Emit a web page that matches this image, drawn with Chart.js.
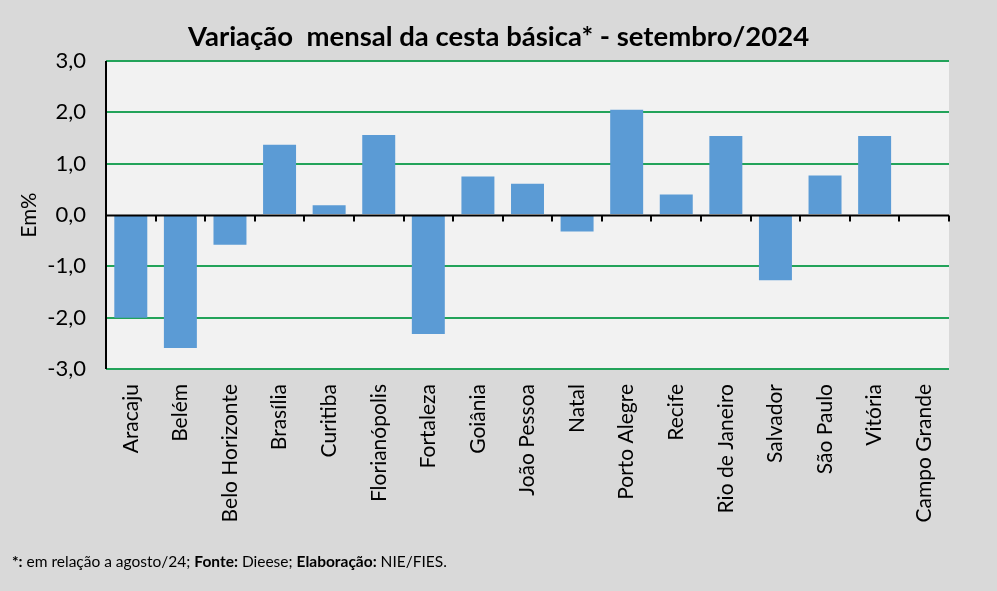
<!DOCTYPE html>
<html lang="pt-BR">
<head>
<meta charset="utf-8">
<script src="https://cdn.jsdelivr.net/npm/chart.js@4.4.1/dist/chart.umd.min.js"></script>
<style>
  html, body { margin: 0; padding: 0; background: #d9d9d9; }
  #wrap { position: relative; width: 997px; height: 591px; }
  #nota {
    position: absolute; left: 12px; top: 552px;
    font-family: Lato, "Open Sans", sans-serif; font-size: 15.5px; color: #000;
  }
</style>
</head>
<body>
<div id="wrap">
  <canvas id="grafico" width="997" height="591"></canvas>
  <div id="nota"><b>*:</b> em relação a agosto/24; <b>Fonte:</b> Dieese; <b>Elaboração:</b> NIE/FIES.</div>
</div>
<script>
const cidades = ['Aracaju', 'Belém', 'Belo Horizonte', 'Brasília', 'Curitiba', 'Florianópolis', 'Fortaleza',
  'Goiânia', 'João Pessoa', 'Natal', 'Porto Alegre', 'Recife', 'Rio de Janeiro', 'Salvador',
  'São Paulo', 'Vitória', 'Campo Grande'];
const variacao = [-2.00, -2.59, -0.58, 1.37, 0.19, 1.56, -2.32, 0.75, 0.61, -0.32, 2.05, 0.40, 1.54, -1.27, 0.77, 1.54, null];
const ticksY = [-3, -2, -1, 0, 1, 2, 3];

document.addEventListener('DOMContentLoaded', function() {
    const ctx = document.getElementById('grafico').getContext('2d');

    // fundo da área de plotagem
    const fundoArea = {
        id: 'fundoArea',
        beforeDraw(chart) {
            const a = chart.chartArea;
            const c = chart.ctx;
            c.save();
            c.fillStyle = '#f2f2f2';
            c.fillRect(a.left, a.top, a.right - a.left, a.bottom - a.top);
            c.restore();
        }
    };

    // eixo horizontal no zero com marcas entre categorias
    const eixoZero = {
        id: 'eixoZero',
        afterDatasetsDraw(chart) {
            const x = chart.scales.x;
            const y = chart.scales.y;
            const y0 = Math.round(y.getPixelForValue(0)) + 0.5;
            const c = chart.ctx;
            c.save();
            c.strokeStyle = '#000';
            c.lineWidth = 2;
            c.beginPath();
            c.moveTo(chart.chartArea.left, y0);
            c.lineTo(chart.chartArea.right, y0);
            for (let i = 0; i <= cidades.length; i++) {
                let px;
                if (i === 0) px = chart.chartArea.left;
                else if (i === cidades.length) px = chart.chartArea.right;
                else px = (x.getPixelForTick(i - 1) + x.getPixelForTick(i)) / 2;
                px = Math.round(px);
                c.moveTo(px, y0);
                c.lineTo(px, y0 + 6);
            }
            c.stroke();
            // eixo vertical
            c.beginPath();
            c.moveTo(chart.chartArea.left, chart.chartArea.top);
            c.lineTo(chart.chartArea.left, chart.chartArea.bottom);
            c.stroke();
            c.restore();
        }
    };

    new Chart(ctx, {
        type: 'bar',
        data: {
            labels: cidades,
            datasets: [{
                label: 'Variação mensal',
                data: variacao,
                backgroundColor: '#5b9bd5',
                borderWidth: 0,
                categoryPercentage: 1,
                barPercentage: 0.665
            }]
        },
        options: {
            responsive: false,
            animation: false,
            devicePixelRatio: 1,
            layout: { padding: 0 },
            plugins: {
                legend: { display: false },
                tooltip: { enabled: false },
                title: {
                    display: true,
                    text: 'Variação  mensal da cesta básica* - setembro/2024',
                    color: '#000',
                    font: { family: 'Lato', size: 27.5, weight: 'bold' },
                    padding: { top: 21, bottom: 7 }
                }
            },
            scales: {
                x: {
                    grid: { display: false, drawTicks: false },
                    border: { display: false },
                    ticks: {
                        autoSkip: false,
                        minRotation: 90,
                        maxRotation: 90,
                        padding: 15,
                        color: '#000',
                        font: { family: 'Lato', size: 21 }
                    },
                    afterFit(scale) { scale.height = 222; }
                },
                y: {
                    min: -3,
                    max: 3,
                    afterBuildTicks(scale) {
                        scale.ticks = ticksY.map(v => ({ value: v }));
                    },
                    grid: {
                        color: ctx => ctx.tick && ctx.tick.value === 0 ? 'rgba(0,0,0,0)' : '#23a35a',
                        lineWidth: 2,
                        drawTicks: false
                    },
                    border: { display: false },
                    ticks: {
                        padding: 20,
                        color: '#000',
                        font: { family: 'Lato', size: 22 },
                        callback: v => v.toFixed(1).replace('.', ',')
                    },
                    title: {
                        display: true,
                        text: 'Em%',
                        color: '#000',
                        font: { family: 'Lato', size: 20.5 },
                        padding: { top: 17, bottom: 0 }
                    },
                    afterFit(scale) { scale.width = 106; }
                },
                // margem direita vazia, como no original
                margem: {
                    position: 'right',
                    grid: { display: false, drawTicks: false },
                    border: { display: false },
                    ticks: { display: false },
                    afterFit(scale) { scale.width = 48; }
                }
            }
        },
        plugins: [fundoArea, eixoZero]
    });
});
</script>
</body>
</html>
